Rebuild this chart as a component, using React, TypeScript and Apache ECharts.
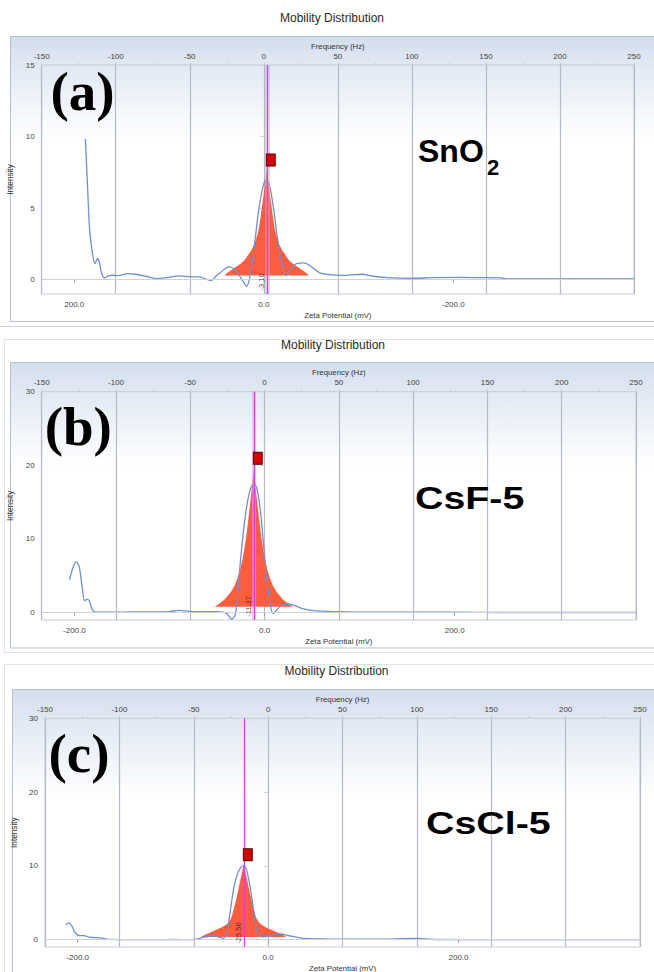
import React, { useEffect, useRef } from 'react';
import * as echarts from 'echarts';

// ---------- data (zeta potential in mV, intensity) ----------
const panelLetters = ['(a)', '(b)', '(c)'];
const sampleNames = ['SnO', 'CsF-5', 'CsCl-5'];
const sampleSubscripts = ['2', '', ''];
const titleText = 'Mobility Distribution';
const freqTitle = 'Frequency (Hz)';
const zetaTitle = 'Zeta Potential (mV)';
const yTitle = 'Intensity';

const freqRange = [-150, 250];
const zetaRanges = [
  [-390.625, 234.375],
  [-234.375, 390.625],
  [-234.375, 390.625],
];
const zetaInverse = [true, false, false];
const zetaTicks = [-200, 0, 200];
const yRanges = [
  [-1, 15],
  [-1, 30],
  [-1, 30],
];
const yTicks = [
  [0, 5, 10, 15],
  [0, 10, 20, 30],
  [0, 10, 20, 30],
];

const peakCenters = [-3.1, -11.37, -25.56];
const peakLabels = ['-3.10', '-11.37', '-25.56'];
const markerHeights = [8.36, 20.96, 11.5];
const labelHeights = [-0.16, 0.84, 0.9];
const peakBases = [0.3, 0.8, 0.35];

const blueA = [
  [188.3, 9.84], [186.0, 6.5], [183.8, 3.5], [180.8, 1.84], [178.1, 1.13], [175.5, 1.48],
  [173.7, 1.25], [171.5, 0.54], [168.4, 0.12], [165, 0.24], [159.7, 0.31], [153, 0.28],
  [144.3, 0.42], [135.5, 0.38], [124.5, 0.24], [113.5, 0.07], [102.5, 0.14], [89.3, 0.26],
  [76.1, 0.2], [67.4, 0.2], [62.9, 0.08], [55, -0.05], [50, 0.3], [46.2, 0.47], [40, 0.82],
  [36.4, 0.89], [32, 0.78], [28.6, 0.58], [24.5, 0.15], [21.7, -0.12], [18.1, -0.47],
  [14.6, 0.23], [10.4, 2.1], [5.8, 4.67], [1.2, 6.4], [-2.3, 7.0], [-5.8, 6.66], [-10, 5.1],
  [-14.2, 3.0], [-18.9, 1.17], [-23.4, 0.28], [-27.6, 0.7], [-34.7, 1.12], [-42.4, 1.17],
  [-50.5, 0.89], [-59.3, 0.47], [-69.8, 0.35], [-82.2, 0.3], [-104.1, 0.38], [-115.1, 0.24],
  [-130.5, 0.14], [-152.4, 0.09], [-178.8, 0.14], [-205.2, 0.16], [-231.6, 0.14],
  [-251.3, 0.12], [-255.8, 0.05], [-293.2, 0.05], [-337.1, 0.05], [-390.6, 0.05],
];
const blueB = [
  [-205.1, 4.47], [-201.6, 6.06], [-198.1, 6.88], [-195, 6.29], [-191.9, 3.56], [-189.3, 1.64],
  [-186.2, 1.83], [-184, 1.5], [-181, 0.37], [-177.5, 0.05], [-170, 0.08], [-160, 0.05],
  [-140, 0.1], [-120, 0.1], [-100, 0.15], [-90, 0.3], [-80, 0.2], [-67.9, 0.12], [-50.4, 0.12],
  [-39.9, -0.1], [-34.6, -0.9], [-31.1, -0.33], [-28.7, 1.7], [-25.9, 6.2], [-22.4, 10.8],
  [-18.8, 14.4], [-14.6, 16.9], [-11.1, 17.55], [-7.7, 16.6], [-4.1, 13.5], [-0.6, 8.5],
  [2.8, 4.0], [6.4, 0.8], [9.1, -0.1], [12.7, 0.35], [18, 1.03], [23.2, 1.17], [30.2, 1.03],
  [39, 0.58], [51.2, 0.26], [75.8, 0.12], [100, 0.08], [150, 0.05], [200, 0.05], [250, 0.02],
  [300, 0.02], [390.6, 0.02],
];
const blueC = [
  [-212.6, 2.03], [-209, 2.26], [-206, 1.8], [-202.5, 0.9], [-198, 0.54], [-193.8, 0.54],
  [-187.2, 0.32], [-176, 0.23], [-167.5, 0.02], [-150, 0], [-120, 0], [-100, 0.02], [-82, 0],
  [-75.7, 0.05], [-68.1, 0.3], [-57.6, 0.49], [-47.1, 0.18], [-43.5, 0.85], [-40.1, 3.56],
  [-35.8, 7.17], [-31.3, 9.2], [-26.7, 9.97], [-23.2, 9.66], [-19, 7.17], [-14.8, 3.56],
  [-11.4, 1.07], [-6.8, 0.39], [2, 0.49], [12.5, 0.76], [23, 0.49], [37, 0.18], [65, 0.08],
  [81.8, 0.05], [120, 0.08], [156, 0.15], [173.6, 0.02], [250, 0], [390.6, 0],
];

const orangeA = [
  [40.9, 0.35], [37.9, 0.5], [34.9, 0.65], [30.9, 0.84], [27.9, 0.95], [23.9, 1.15], [19.9, 1.4],
  [15.9, 1.8], [12.9, 2.1], [9.9, 2.5], [6.9, 3.1], [4.9, 3.7], [2.9, 4.6], [0.9, 5.6],
  [-1.1, 6.6], [-3.1, 7.7], [-5.1, 6.6], [-7.1, 5.6], [-9.1, 4.6], [-11.1, 3.7], [-13.1, 3.1],
  [-16.1, 2.5], [-19.1, 2.1], [-22.1, 1.8], [-26.1, 1.4], [-30.1, 1.15], [-34.1, 0.95],
  [-37.1, 0.84], [-41.1, 0.65], [-44.1, 0.5], [-47.1, 0.35],
];
const orangeB = [
  [-52.4, 0.85], [-49.4, 1.05], [-46.4, 1.35], [-42.4, 1.75], [-39.4, 2.2], [-35.4, 2.8],
  [-31.4, 3.7], [-28.4, 4.7], [-25.4, 6.0], [-23.4, 7.1], [-21.4, 8.5], [-19.4, 10.2],
  [-17.4, 12.3], [-15.4, 14.6], [-13.4, 16.9], [-11.4, 19.5], [-9.4, 16.9], [-7.4, 14.6],
  [-5.4, 12.3], [-3.4, 10.2], [-1.4, 8.5], [0.6, 7.1], [2.6, 6.0], [5.6, 4.7], [8.6, 3.7],
  [12.6, 2.8], [16.6, 2.2], [19.6, 1.75], [23.6, 1.35], [26.6, 1.05], [29.6, 0.85],
];
const orangeC = [
  [-69.6, 0.45], [-64.6, 0.75], [-59.6, 1.05], [-54.6, 1.35], [-49.6, 1.6], [-45.6, 1.9],
  [-42.6, 2.2], [-39.6, 2.7], [-37.6, 3.4], [-35.6, 4.4], [-33.6, 5.4], [-31.6, 6.6],
  [-29.6, 7.8], [-27.6, 9.0], [-25.6, 10.3], [-23.6, 9.0], [-21.6, 7.8], [-19.6, 6.6],
  [-17.6, 5.4], [-15.6, 4.4], [-13.6, 3.4], [-11.6, 2.7], [-8.6, 2.2], [-5.6, 1.9],
  [-1.6, 1.6], [3.4, 1.35], [8.4, 1.05], [13.4, 0.75], [18.4, 0.45],
];

const blueSeries = [blueA, blueB, blueC];
const orangeSeries = [orangeA, orangeB, orangeC];

// ---------- layout / style ----------
const FONT = '"Liberation Sans", Arial, sans-serif';
const SERIF = '"Liberation Serif", "Times New Roman", serif';
const grids = [
  { left: 41.7, top: 65, width: 592.3, height: 229 },
  { left: 41.7, top: 391.7, width: 594.3, height: 228.3 },
  { left: 45, top: 718.3, width: 595, height: 228.7 },
];
const glowWidths = [5, 4, 0];
const titlePos = [[332, 18], [333, 345], [336.5, 670.5]];
const framePos = [[10.5, 36.5, 285], [10.5, 362.5, 285.5], [12.5, 689.5, 300]];
const letterPos = [[82.5, 91], [78.3, 426], [79, 753]];
const namePos = [[418, 150.5], [415, 497.9], [426, 823.6]];
const nameSize = [32, 32, 32];
const nameScaleX = [1, 1.23, 1.23];

export default function App() {
  const ref = useRef<HTMLDivElement>(null);
  useEffect(() => {
    if (!ref.current) return;
    const chart = echarts.init(ref.current, undefined, { renderer: 'svg' });

    const xAxis: any[] = [];
    const yAxis: any[] = [];
    const series: any[] = [];
    const graphic: any[] = [];

    graphic.push({
      type: 'line', z: -20,
      shape: { x1: 0, y1: 326.5, x2: 654, y2: 326.5 },
      style: { stroke: '#cfcfcf', lineWidth: 1 },
    });
    graphic.push({
      type: 'rect', z: -20,
      shape: { x: 4.5, y: 339.5, width: 660, height: 313 },
      style: { fill: 'none', stroke: '#e2e2e2', lineWidth: 1 },
    });
    graphic.push({
      type: 'rect', z: -20,
      shape: { x: 4.5, y: 664.5, width: 660, height: 330 },
      style: { fill: 'none', stroke: '#e2e2e2', lineWidth: 1 },
    });

    for (let p = 0; p < 3; p++) {
      const [fx, fy, fh] = framePos[p];
      graphic.push({
        type: 'rect', z: -10,
        shape: { x: fx, y: fy, width: 660, height: fh },
        style: {
          fill: {
            type: 'linear', x: 0, y: 0, x2: 0, y2: 1,
            colorStops: [
              { offset: 0, color: '#d3deec' },
              { offset: 0.12, color: '#e3eaf4' },
              { offset: 0.36, color: '#ffffff' },
              { offset: 1, color: '#ffffff' },
            ],
          },
          stroke: '#b5c1d1', lineWidth: 1,
        },
      });
      graphic.push({
        type: 'text', z: 50, x: titlePos[p][0], y: titlePos[p][1],
        style: {
          text: titleText, fontSize: 12, fontFamily: FONT, fill: '#2a2a2a',
          textAlign: 'center', textVerticalAlign: 'middle',
        },
      });
      graphic.push({
        type: 'text', z: 100, x: letterPos[p][0], y: letterPos[p][1],
        style: {
          text: panelLetters[p], fontSize: 55, fontWeight: 'bold', fontFamily: SERIF,
          fill: '#000', textAlign: 'center', textVerticalAlign: 'middle',
        },
      });
      graphic.push({
        type: 'text', z: 100, x: namePos[p][0], y: namePos[p][1], scaleX: nameScaleX[p],
        style: {
          text: sampleNames[p], fontSize: nameSize[p], fontWeight: 'bold', fontFamily: FONT,
          fill: '#000', textAlign: 'left', textVerticalAlign: 'middle',
        },
      });
      if (sampleSubscripts[p]) {
        graphic.push({
          type: 'text', z: 100, x: 487, y: 167.3,
          style: {
            text: sampleSubscripts[p], fontSize: 22, fontWeight: 'bold', fontFamily: FONT,
            fill: '#000', textAlign: 'left', textVerticalAlign: 'middle',
          },
        });
      }

      xAxis.push({
        type: 'value', gridIndex: p, position: 'bottom',
        min: zetaRanges[p][0], max: zetaRanges[p][1], inverse: zetaInverse[p],
        axisLine: { show: false },
        axisTick: { show: true, customValues: zetaTicks, length: 3, lineStyle: { color: '#9a9a9a' } },
        axisLabel: {
          customValues: zetaTicks, formatter: (v: number) => v.toFixed(1),
          fontSize: 8, fontFamily: FONT, color: '#444', margin: 6,
        },
        splitLine: { show: false },
        name: zetaTitle, nameLocation: 'middle', nameGap: 17,
        nameTextStyle: { fontSize: 7.8, fontFamily: FONT, color: '#333' },
      });
      xAxis.push({
        type: 'value', gridIndex: p, position: 'top',
        min: freqRange[0], max: freqRange[1], interval: 50,
        axisLine: { show: false },
        axisTick: { show: true, length: 2, lineStyle: { color: '#c8c8c8' } },
        minorTick: { show: true, splitNumber: 2, length: 2, lineStyle: { color: '#c8c8c8' } },
        axisLabel: { fontSize: 8, fontFamily: FONT, color: '#444', margin: 5 },
        splitLine: { show: true, lineStyle: { color: '#b3bbc7', width: 1.2 } },
        name: freqTitle, nameLocation: 'middle', nameGap: 15,
        nameTextStyle: { fontSize: 7.8, fontFamily: FONT, color: '#333' },
      });
      yAxis.push({
        type: 'value', gridIndex: p,
        min: yRanges[p][0], max: yRanges[p][1],
        axisLine: { show: false },
        axisTick: { show: true, customValues: yTicks[p], length: 4, lineStyle: { color: '#cfcfcf' } },
        axisLabel: {
          customValues: yTicks[p], fontSize: 8, fontFamily: FONT, color: '#444', margin: 7,
        },
        splitLine: { show: false },
        name: yTitle, nameLocation: 'middle', nameGap: 20,
        nameTextStyle: { fontSize: 8.2, fontFamily: FONT, color: '#333' },
      });

      const xi = 2 * p;
      const c = peakCenters[p];
      series.push({
        type: 'line', xAxisIndex: xi, yAxisIndex: p, data: [], z: 1, silent: true,
        markLine: {
          silent: true, symbol: 'none', label: { show: false },
          lineStyle: { color: '#d2d2d2', width: 1, type: 'solid' },
          data: [{ yAxis: 0 }],
        },
      });
      series.push({
        type: 'line', xAxisIndex: xi, yAxisIndex: p, data: orangeSeries[p], z: 2,
        symbol: 'none', silent: true,
        lineStyle: { width: 0 }, itemStyle: { color: '#ff5b3d' },
        areaStyle: { color: '#ff5b3d', opacity: 1, origin: peakBases[p] },
      });
      series.push({
        type: 'line', xAxisIndex: xi, yAxisIndex: p, data: blueSeries[p], z: 3,
        symbol: 'none', smooth: 0.3, silent: true,
        lineStyle: { color: '#6c8fd5', width: 1.3 },
      });
      const ml: any[] = [];
      if (glowWidths[p] > 0) {
        ml.push({ xAxis: c, lineStyle: { color: 'rgba(240,150,240,0.5)', width: glowWidths[p], type: 'solid' } });
      }
      ml.push({ xAxis: c, lineStyle: { color: '#dc3cdc', width: 1.2, type: 'solid' } });
      series.push({
        type: 'line', xAxisIndex: xi, yAxisIndex: p, data: [], z: 4, silent: true,
        markLine: { silent: true, symbol: 'none', label: { show: false }, data: ml },
      });
      series.push({
        type: 'scatter', xAxisIndex: xi, yAxisIndex: p, z: 6, silent: true,
        data: [[c, markerHeights[p]]],
        symbol: 'rect', symbolSize: [9, 12], symbolOffset: [4, 0],
        itemStyle: { color: '#d80000', borderColor: '#4d0000', borderWidth: 1, opacity: 1 },
      });
      series.push({
        type: 'scatter', xAxisIndex: xi, yAxisIndex: p, z: 7, silent: true,
        data: [[c, labelHeights[p]]],
        symbolSize: 1, itemStyle: { color: 'transparent' },
        label: {
          show: true, position: 'inside', rotate: 90, offset: [0, -5],
          formatter: peakLabels[p], fontSize: 7.5, fontFamily: FONT, color: '#222',
        },
      });
    }

    chart.setOption({
      animation: false,
      backgroundColor: '#ffffff',
      grid: grids.map((g) => ({
        ...g, show: true, borderColor: '#c6cbd4', borderWidth: 1,
        backgroundColor: 'transparent', containLabel: false, outerBoundsMode: 'none',
      })),
      xAxis, yAxis, series, graphic,
    });
    return () => chart.dispose();
  }, []);
  return (
    <div
      ref={ref}
      style={{ position: 'absolute', left: 0, top: 0, width: 654, height: 972 }}
    />
  );
}
